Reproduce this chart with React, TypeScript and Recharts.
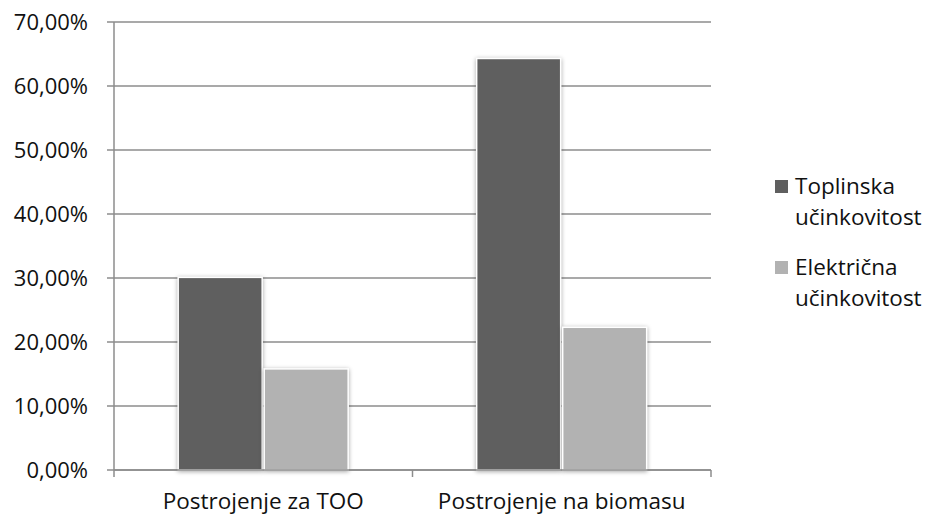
import { BarChart, Bar, XAxis, YAxis, CartesianGrid } from "recharts";

const categories = ["Postrojenje za TOO", "Postrojenje na biomasu"];
const toplinska = [30.1, 64.3];
const elektricna = [15.8, 22.3];
const yTicks = [0, 10, 20, 30, 40, 50, 60, 70];

const series = [
  { key: "toplinska", name: ["Toplinska", "učinkovitost"], color: "#5f5f5f" },
  { key: "elektricna", name: ["Električna", "učinkovitost"], color: "#b2b2b2" },
];

const data = categories.map((c, i) => ({
  category: c,
  toplinska: toplinska[i],
  elektricna: elektricna[i],
}));

const FONT = "'Open Sans', sans-serif";
const AXIS = "#8c8c8c";
const TEXT = "#111111";

const fmt = (v: number) => `${v.toFixed(2).replace(".", ",")}%`;

const BarShape = (props: any) => {
  const { x, y, width, height, fill } = props;
  if (!height || height <= 0) return null;
  return (
    <rect
      x={x}
      y={y}
      width={width}
      height={height}
      fill={fill}
      stroke="#ffffff"
      strokeWidth={1.5}
      style={{ filter: "drop-shadow(0px 1px 2px rgba(0,0,0,0.35))" }}
    />
  );
};

const CategoryTick = (props: any) => {
  const { x, y, payload, index } = props;
  const half = payload?.offset ?? 149;
  const last = index === categories.length - 1;
  return (
    <g>
      <line x1={x - half} x2={x - half} y1={y} y2={y + 7} stroke={AXIS} strokeWidth={1.5} />
      {last && <line x1={x + half} x2={x + half} y1={y} y2={y + 7} stroke={AXIS} strokeWidth={1.5} />}
      <text x={x} y={y + 39} textAnchor="middle" fill={TEXT} fontSize={22.5} fontFamily={FONT}>
        {payload.value}
      </text>
    </g>
  );
};

const App = () => {
  return (
    <div style={{ position: "absolute", left: 0, top: 0, width: 930, height: 515, background: "#fff" }}>
      <BarChart
        width={930}
        height={515}
        data={data}
        margin={{ top: 22, right: 219, bottom: 15, left: 0 }}
        barCategoryGap="21.5%"
        barGap={2}
      >
        <CartesianGrid vertical={false} stroke={AXIS} strokeWidth={1.5} />
        <XAxis
          dataKey="category"
          axisLine={{ stroke: AXIS, strokeWidth: 1.5 }}
          tickLine={false}
          tickSize={0}
          tickMargin={0}
          height={30}
          interval={0}
          tick={<CategoryTick />}
        />
        <YAxis
          width={114}
          domain={[0, 70]}
          ticks={yTicks}
          tickFormatter={fmt}
          axisLine={{ stroke: AXIS, strokeWidth: 1.5 }}
          tickLine={{ stroke: AXIS, strokeWidth: 1.5 }}
          tickSize={7}
          tickMargin={19}
          tick={{ fill: TEXT, fontSize: 22, fontFamily: FONT }}
        />
        {series.map((s) => (
          <Bar
            key={s.key}
            dataKey={s.key}
            fill={s.color}
            isAnimationActive={false}
            shape={<BarShape />}
          />
        ))}
      </BarChart>
      <div
        style={{
          position: "absolute",
          left: 775,
          top: 170,
          fontFamily: FONT,
          fontSize: 22.5,
          lineHeight: "31px",
          color: TEXT,
        }}
      >
        {series.map((s) => (
          <div key={s.key} style={{ display: "flex", alignItems: "flex-start", marginBottom: 19 }}>
            <div style={{ width: 13, height: 13, background: s.color, marginTop: 10, marginRight: 7 }} />
            <div>
              {s.name.map((line) => (
                <div key={line}>{line}</div>
              ))}
            </div>
          </div>
        ))}
      </div>
    </div>
  );
};

export default App;
